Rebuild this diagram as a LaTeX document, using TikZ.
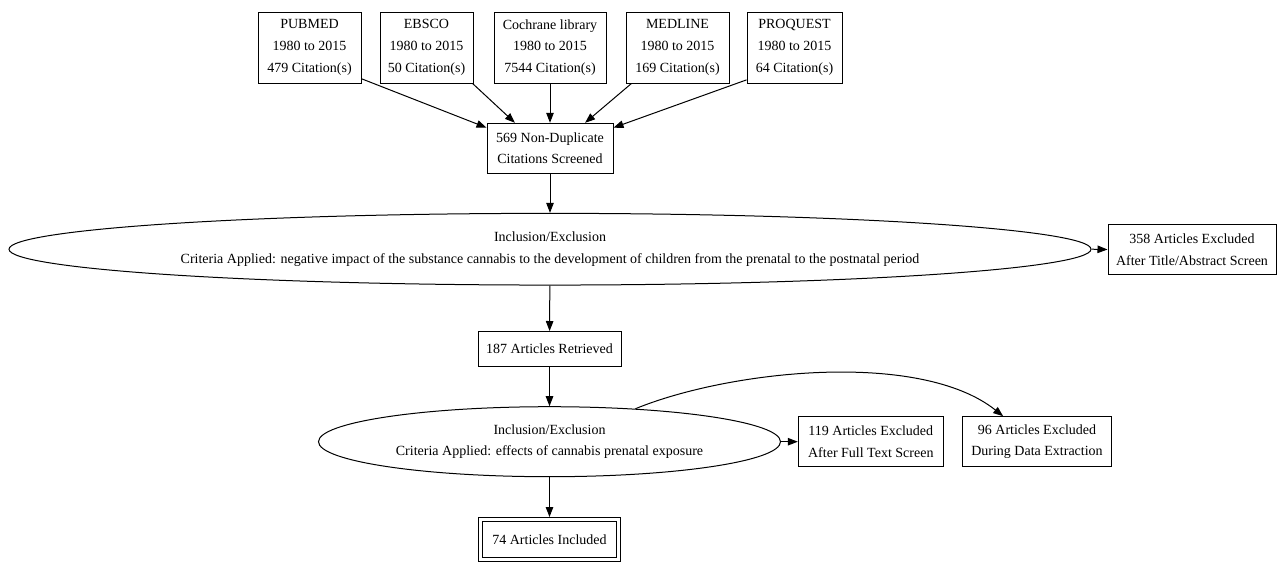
\documentclass[tikz,border=0pt]{standalone}
\usepackage{fontspec}
\setmainfont{Liberation Serif}
\usetikzlibrary{arrows.meta,shapes.geometric}
\begin{document}
\begin{tikzpicture}[x=1pt,y=-1pt,
  every node/.style={font=\fontsize{14}{21.7}\selectfont, align=center, inner sep=0pt},
  box/.style={draw, line width=1pt, rectangle},
  ell/.style={draw, line width=1pt, ellipse},
  conn/.style={line width=1pt, -{Triangle[length=10pt,width=7.5pt]}}]
\useasboundingbox (0,0) rectangle (1277,563);
% top sources
\node[box, minimum width=103, minimum height=71] (pubmed) at (309.5,47.5) {PUBMED\\1980 to 2015\\479 Citation(s)};
\node[box, minimum width=93, minimum height=71] (ebsco) at (426.5,47.5) {EBSCO\\1980 to 2015\\50 Citation(s)};
\node[box, minimum width=112, minimum height=71] (cochrane) at (550,47.5) {Cochrane library\\1980 to 2015\\7544 Citation(s)};
\node[box, minimum width=103, minimum height=71] (medline) at (677.5,47.5) {MEDLINE\\1980 to 2015\\169 Citation(s)};
\node[box, minimum width=95, minimum height=71] (proquest) at (794.5,47.5) {PROQUEST\\1980 to 2015\\64 Citation(s)};
% flow
\node[box, minimum width=126, minimum height=50] (n569) at (550,148.3) {569 Non-Duplicate\\Citations Screened};
\node[ell, minimum width=1082, minimum height=71.7] (ell1) at (550,249.2) {Inclusion/Exclusion\\Criteria Applied: negative impact of the substance cannabis to the development of children from the prenatal to the postnatal period};
\node[box, minimum width=168, minimum height=50] (n358) at (1192,249.5) {358 Articles Excluded\\After Title/Abstract Screen};
\node[box, minimum width=143, minimum height=35] (n187) at (549.5,349) {187 Articles Retrieved};
\node[ell, minimum width=462, minimum height=70] (ell2) at (549.5,441.7) {Inclusion/Exclusion\\Criteria Applied: effects of cannabis prenatal exposure};
\node[box, minimum width=145, minimum height=50] (n119) at (870.8,441.7) {119 Articles Excluded\\After Full Text Screen};
\node[box, minimum width=149.4, minimum height=50] (n96) at (1037,441.7) {96 Articles Excluded\\During Data Extraction};
\node[box, double, double distance=3pt, outer sep=2.5pt, minimum width=138, minimum height=40] (n74) at (549.5,539.5) {74 Articles Included};
% connectors
\draw[conn] (pubmed.-31.5) -- (n569.162.3);
\draw[conn] (ebsco.-38.6) -- (n569.144.5);
\draw[conn] (cochrane.south) -- (n569.north);
\draw[conn] (medline.-142) -- (n569.36.3);
\draw[conn] (proquest.-146.5) -- (n569.18);
\draw[conn] (n569) -- (ell1);
\draw[conn] (ell1.east) -- (n358.west);
\draw[conn] (ell1) -- (n187);
\draw[conn] (n187) -- (ell2);
\draw[conn] (ell2.east) -- (n119.west);
\draw[conn] (ell2.21) .. controls (730,370) and (920,350) .. (n96.143);
\draw[conn] (ell2) -- (n74);
\end{tikzpicture}
\end{document}
